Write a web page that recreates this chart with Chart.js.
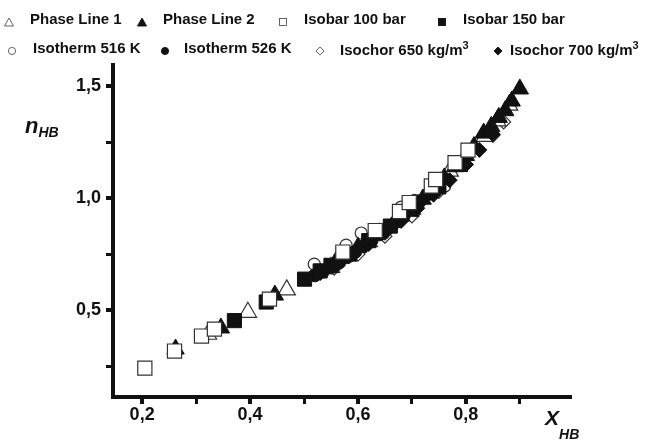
<!DOCTYPE html>
<html>
<head>
<meta charset="utf-8">
<script src="https://cdn.jsdelivr.net/npm/chart.js@4"></script>
<style>
  body { margin: 0; background: #fff; }
  #wrap { position: relative; width: 647px; height: 440px; font-family: "Liberation Sans", Arial, sans-serif; }
  #wrap canvas { position: absolute; left: 0; top: 0; }
  .lg { position: absolute; font-weight: bold; font-size: 15px; color: #111; white-space: nowrap; line-height: 1; }
  .lg sup { font-size: 11px; vertical-align: 6px; }
  .mk { position: absolute; width: 10px; height: 10px; }
  .ttl { position: absolute; font-weight: bold; font-style: italic; color: #111; white-space: nowrap; line-height: 1; }
  .ttl sub { font-size: 14px; }
</style>
</head>
<body>
<div id="wrap">
  <canvas id="chart" width="647" height="440"></canvas>
  <div id="legend"></div>
  <div class="ttl" style="left:25px; top:115px; font-size:22px;">n<sub style="vertical-align:-4px">HB</sub></div>
  <div class="ttl" style="left:545px; top:407px; font-size:21px;">X<sub style="vertical-align:-14px">HB</sub></div>
</div>
<script>
// series names
const names = ['Phase Line 1', 'Phase Line 2', 'Isobar 100 bar', 'Isobar 150 bar',
  'Isotherm 516 K', 'Isotherm 526 K', 'Isochor 650 kg/m<sup>3</sup>', 'Isochor 700 kg/m<sup>3</sup>'];

// x values (X_HB) and y values (n_HB) per series
const phase1X = [0.322, 0.396, 0.468, 0.55, 0.62, 0.70, 0.77, 0.835, 0.858, 0.88];
const phase1Y = [0.392, 0.49, 0.59, 0.69, 0.805, 0.95, 1.12, 1.275, 1.345, 1.415];

const phase2X = [0.262, 0.346, 0.446, 0.56, 0.60, 0.64, 0.68, 0.72, 0.76, 0.78, 0.80, 0.815, 0.833, 0.847, 0.861, 0.873, 0.885, 0.90];
const phase2Y = [0.326, 0.42, 0.567, 0.72, 0.78, 0.845, 0.92, 0.995, 1.09, 1.14, 1.19, 1.23, 1.29, 1.32, 1.36, 1.39, 1.433, 1.487];

const isobar100X = [0.205, 0.26, 0.31, 0.334, 0.436, 0.572, 0.632, 0.677, 0.695, 0.736, 0.744, 0.78, 0.804];
const isobar100Y = [0.241, 0.317, 0.384, 0.415, 0.549, 0.759, 0.855, 0.94, 0.98, 1.054, 1.083, 1.158, 1.214];

const isobar150X = [0.371, 0.43, 0.501, 0.53, 0.55, 0.585, 0.62, 0.66, 0.70, 0.75, 0.79];
const isobar150Y = [0.453, 0.536, 0.638, 0.675, 0.70, 0.75, 0.81, 0.875, 0.95, 1.05, 1.15];

const iso516X = [0.519, 0.578, 0.606, 0.68, 0.705, 0.761];
const iso516Y = [0.705, 0.79, 0.844, 0.96, 0.99, 1.054];

const iso526X = [0.52, 0.535, 0.55, 0.565, 0.58, 0.595, 0.61, 0.625, 0.64, 0.655, 0.67, 0.685, 0.70, 0.715, 0.73, 0.745];
const iso526Y = [0.655, 0.672, 0.69, 0.712, 0.736, 0.76, 0.785, 0.81, 0.838, 0.865, 0.893, 0.922, 0.954, 0.986, 1.018, 1.052];

const ich650X = [0.556, 0.60, 0.65, 0.70, 0.75, 0.80, 0.85, 0.87];
const ich650Y = [0.687, 0.75, 0.83, 0.92, 1.03, 1.15, 1.28, 1.34];

const ich700X = [0.53, 0.56, 0.59, 0.62, 0.65, 0.68, 0.71, 0.74, 0.77, 0.80, 0.825, 0.85];
const ich700Y = [0.665, 0.705, 0.75, 0.795, 0.845, 0.898, 0.955, 1.015, 1.08, 1.15, 1.215, 1.285];

const xTicks = [0.2, 0.4, 0.6, 0.8];
const yTicks = [0.5, 1.0, 1.5];

const BLACK = '#111';
const OPEN = '#333';

function pts(xs, ys) {
  return xs.map((x, i) => ({ x, y: ys[i] }));
}

function ds(label, xs, ys, style, filled, radius, order) {
  return {
    label,
    data: pts(xs, ys),
    pointStyle: style,
    pointRadius: radius,
    pointHoverRadius: radius,
    pointBackgroundColor: filled ? BLACK : '#fff',
    pointBorderColor: filled ? BLACK : OPEN,
    pointBorderWidth: filled ? 1 : 1.2,
    showLine: false,
    order
  };
}

// legend (html, two rows)
const legendItems = [
  { svg: 'tri', fill: false, mx: 4, tx: 30, y: 11 },
  { svg: 'tri', fill: true, mx: 137, tx: 163, y: 11 },
  { svg: 'sq', fill: false, mx: 278, tx: 304, y: 11 },
  { svg: 'sq', fill: true, mx: 437, tx: 463, y: 11 },
  { svg: 'ci', fill: false, mx: 7, tx: 33, y: 40 },
  { svg: 'ci', fill: true, mx: 160, tx: 184, y: 40 },
  { svg: 'di', fill: false, mx: 315, tx: 340, y: 40 },
  { svg: 'di', fill: true, mx: 493, tx: 510, y: 40 }
];

function markerSvg(kind, fill) {
  const f = fill ? BLACK : '#fff';
  const s = fill ? BLACK : '#555';
  let shape = '';
  if (kind === 'tri') shape = `<polygon points="5,1 9.5,9 0.5,9" fill="${f}" stroke="${s}" stroke-width="0.9"/>`;
  if (kind === 'sq') shape = `<rect x="1.5" y="1.5" width="7" height="7" fill="${f}" stroke="${s}" stroke-width="0.9"/>`;
  if (kind === 'ci') shape = `<circle cx="5" cy="5" r="3.6" fill="${f}" stroke="${s}" stroke-width="0.9"/>`;
  if (kind === 'di') shape = `<polygon points="5,1 9,5 5,9 1,5" fill="${f}" stroke="${s}" stroke-width="0.9"/>`;
  return `<svg width="10" height="10" viewBox="0 0 10 10">${shape}</svg>`;
}

const legend = document.getElementById('legend');
legendItems.forEach((it, i) => {
  const m = document.createElement('div');
  m.className = 'mk';
  m.style.left = it.mx + 'px';
  m.style.top = (it.y + 2) + 'px';
  m.innerHTML = markerSvg(it.svg, it.fill);
  legend.appendChild(m);
  const t = document.createElement('div');
  t.className = 'lg';
  t.style.left = it.tx + 'px';
  t.style.top = it.y + 'px';
  t.innerHTML = names[i];
  legend.appendChild(t);
});

const tickFont = { family: '"Liberation Sans", Arial, sans-serif', size: 18, weight: 'bold' };

new Chart(document.getElementById('chart'), {
  type: 'scatter',
  data: {
    datasets: [
      ds('Phase Line 1', phase1X, phase1Y, 'triangle', false, 10, 5),
      ds('Phase Line 2', phase2X, phase2Y, 'triangle', true, 10, 1),
      ds('Isobar 100 bar', isobar100X, isobar100Y, 'rect', false, 10, 0),
      ds('Isobar 150 bar', isobar150X, isobar150Y, 'rect', true, 10, 2),
      ds('Isotherm 516 K', iso516X, iso516Y, 'circle', false, 6, 7),
      ds('Isotherm 526 K', iso526X, iso526Y, 'circle', true, 6.5, 4),
      ds('Isochor 650 kg/m3', ich650X, ich650Y, 'rectRot', false, 7, 6),
      ds('Isochor 700 kg/m3', ich700X, ich700Y, 'rectRot', true, 7.5, 3)
    ]
  },
  options: {
    responsive: false,
    animation: false,
    layout: { padding: { top: 65, right: 77, left: 0, bottom: 0 } },
    plugins: {
      legend: { display: false },
      tooltip: { enabled: false }
    },
    scales: {
      x: {
        type: 'linear',
        min: 0.146,
        max: 0.993,
        afterFit: scale => { scale.height = 43; },
        border: { display: true, color: BLACK, width: 4 },
        grid: {
          drawOnChartArea: false,
          drawTicks: true,
          tickLength: 7,
          tickColor: BLACK,
          lineWidth: ctx => (Math.round(ctx.tick.value * 10) % 2 === 0 ? 4 : 3)
        },
        ticks: {
          stepSize: 0.1,
          includeBounds: false,
          autoSkip: false,
          maxRotation: 0,
          padding: 0,
          color: BLACK,
          font: tickFont,
          callback: v => (xTicks.some(t => Math.abs(t - v) < 1e-6) ? v.toFixed(1).replace('.', ',') : '')
        }
      },
      y: {
        type: 'linear',
        min: 0.112,
        max: 1.594,
        afterFit: scale => { scale.width = 113; },
        border: { display: true, color: BLACK, width: 4 },
        grid: {
          drawOnChartArea: false,
          drawTicks: true,
          tickLength: 7,
          tickColor: BLACK,
          lineWidth: ctx => (Math.round(ctx.tick.value * 4) % 2 === 0 ? 4 : 3)
        },
        ticks: {
          stepSize: 0.25,
          includeBounds: false,
          autoSkip: false,
          padding: 5,
          color: BLACK,
          font: tickFont,
          callback: v => (yTicks.some(t => Math.abs(t - v) < 1e-6) ? v.toFixed(1).replace('.', ',') : '')
        }
      }
    }
  }
});
</script>
</body>
</html>
